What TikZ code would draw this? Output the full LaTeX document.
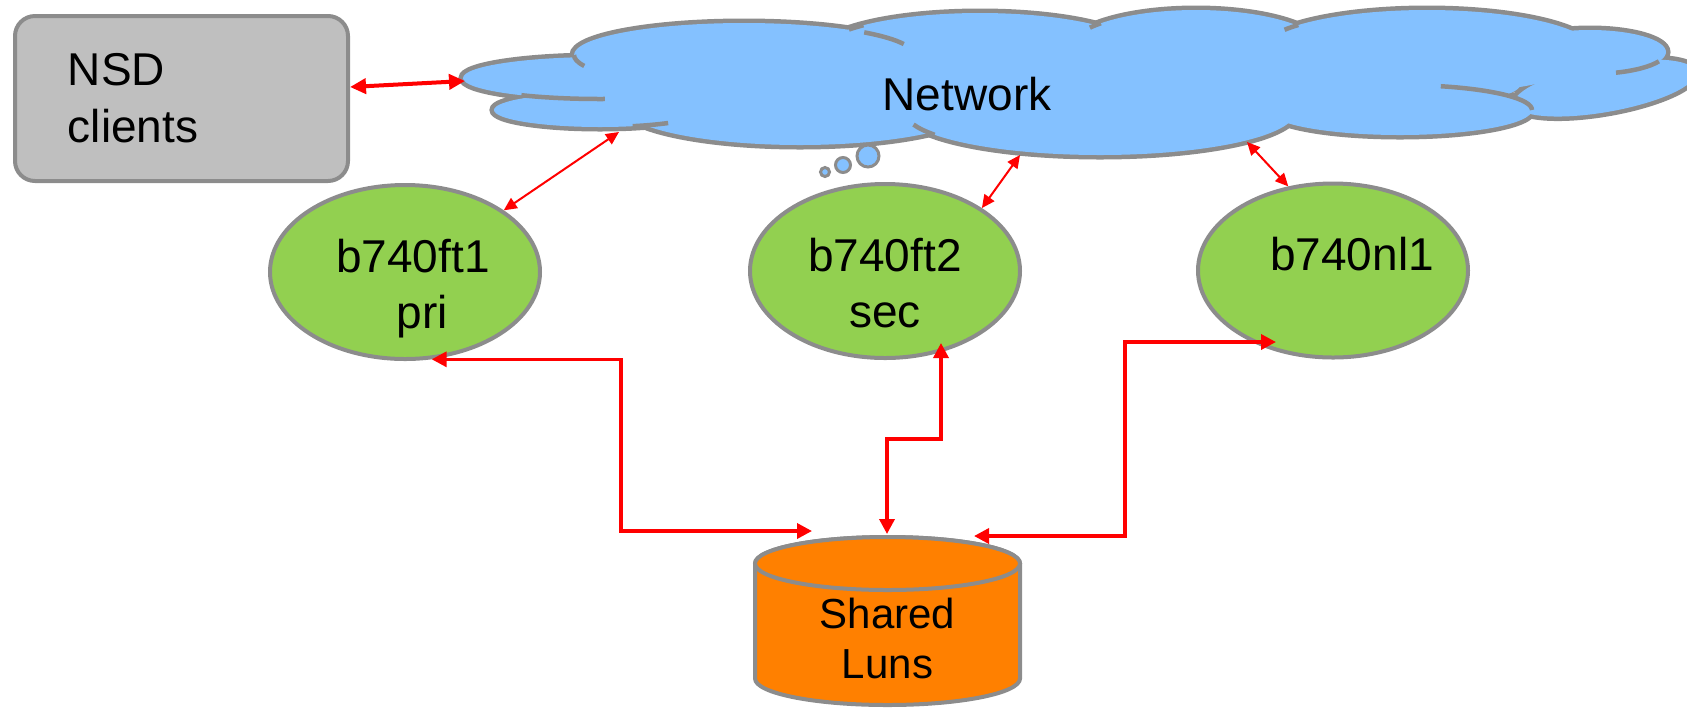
\documentclass[tikz,border=0pt]{standalone}
\usepackage{fontspec}
\setmainfont{Liberation Sans}
\usetikzlibrary{arrows.meta,calc,shapes.geometric}
\definecolor{linegray}{RGB}{140,140,140}
\definecolor{cloudblue}{RGB}{132,193,255}
\definecolor{hostgreen}{RGB}{146,208,80}
\definecolor{boxgray}{RGB}{191,191,191}
\definecolor{lunorange}{RGB}{255,128,0}
\definecolor{linkred}{RGB}{255,0,0}
\newcommand{\shiftedtext}[2]{\makebox[0pt]{\hspace*{#1}#2}}
\begin{document}
\begin{tikzpicture}[x=0.5pt,y=-0.5pt,
  lobeline/.style={draw=linegray, line width=4.5pt},
  lobefill/.style={fill=cloudblue},
  inner arc/.style={draw=linegray, line width=2.25pt},
  bubble/.style={draw=linegray, line width=1.5pt, fill=cloudblue},
  hostnode/.style={ellipse, draw=linegray, line width=2pt, fill=hostgreen,
     minimum width=135pt, minimum height=87pt, inner sep=0pt, align=center,
     font=\fontsize{23}{28}\selectfont, text height=56pt, text depth=0pt},
  clientbox/.style={rectangle, rounded corners=10pt, draw=linegray, line width=2pt,
     fill=boxgray, minimum width=166.5pt, minimum height=82.5pt, inner sep=0pt,
     text width=113.5pt, align=left, font=\fontsize{23}{28.5}\selectfont},
  cloudtext/.style={font=\fontsize{23}{28}\selectfont, inner sep=0pt},
  luntext/.style={font=\fontsize{21}{25}\selectfont, inner sep=0pt, align=center,
     text height=50pt, text depth=0pt},
  disk/.style={fill=lunorange, draw=linegray, line width=2pt},
  link thick/.style={draw=linkred, line width=1.75pt,
     {Triangle[length=7.5pt,width=7.5pt]}-{Triangle[length=7.5pt,width=7.5pt]}},
  link thin/.style={draw=linkred, line width=1pt,
     {Triangle[length=6.5pt,width=6pt]}-{Triangle[length=6.5pt,width=6pt]}},
  link client/.style={draw=linkred, line width=2pt,
     {Triangle[length=8pt,width=7.5pt]}-{Triangle[length=8pt,width=7.5pt]}},
]
\useasboundingbox (0,0) rectangle (1687,709);

% ---- cloud (union of lobes) ----
\def\cloudlobes{600/78/137/21/0, 600/110/106/17/0, 744/55/170/32/0, 980/53/162/40/0,
  1196/50/128/40/0, 1427/52/168/42/0, 1590/52/76/22/0, 1605/88/92/24/10,
  800/105/180/40/0, 1100/112/195/43/0, 1400/110/132/25/0}
\foreach \cx/\cy/\rx/\ry/\rot in \cloudlobes
  \path[lobeline, rotate around={\rot:(\cx,\cy)}] (\cx,\cy) ellipse [x radius=\rx, y radius=\ry];
\foreach \cx/\cy/\rx/\ry/\rot in \cloudlobes
  \path[lobefill, rotate around={\rot:(\cx,\cy)}] (\cx,\cy) ellipse [x radius=\rx, y radius=\ry];
\path[lobefill] (1100,85) ellipse [x radius=420, y radius=38];
\foreach \cx/\cy/\rx/\ry/\sa/\ea in {600/78/137/21/125/88, 744/55/170/32/-45/-20,
  744/55/170/32/180/160, 600/110/106/17/72/50, 1100/112/195/43/148/163,
  1400/110/132/25/-72/0, 1590/52/76/22/70/25, 980/53/162/40/-136/-144,
  1196/50/128/40/-138/-146, 1427/52/168/42/-140/-148}
  \draw[inner arc] ([shift={({\rx*cos(\sa)},{\ry*sin(\sa)})}]\cx,\cy)
     arc[start angle=\sa, end angle=\ea, x radius=\rx, y radius=\ry];
\path[bubble] (868,156) circle[radius=11];
\path[bubble] (843,165) circle[radius=7.5];
\path[bubble] (825,172) circle[radius=4.5];
\node[cloudtext, anchor=base] (net) at (967,110) {Network};

% ---- nodes ----
\node[clientbox] (nsd) at (181.5,98.5) {NSD\\clients};
\node[hostnode] (ft1) at (405,272) {\shiftedtext{8pt}{b740ft1}\\\shiftedtext{17pt}{pri}};
\node[hostnode] (ft2) at (885,271) {b740ft2\\sec};
\node[hostnode, text height=0pt] (nl1) at (1333,270.5) {\shiftedtext{19pt}{b740nl1}};

% ---- shared disk ----
\path[disk] (755,563.5) -- (755,678.5)
  arc[start angle=180, end angle=0, x radius=132.5, y radius=26.5] -- (1020,563.5)
  arc[start angle=0, end angle=-180, x radius=132.5, y radius=26.5] -- cycle;
\path[disk] (887.5,563.5) ellipse[x radius=132.5, y radius=26.5];
\node[luntext] (luns) at (887.5,628) {Shared\\Luns};

% ---- connector end points ----
\coordinate (netL) at (465,81);
\coordinate (netB) at (619,132);
\coordinate (netC) at (1020,155);
\coordinate (netD) at (1247,142);
\coordinate (ft2b) at ($(ft2)+(56,72)$);
\coordinate (nl1b) at ($(nl1)+(-57,71.5)$);
\coordinate (lunL) at (812,531);
\coordinate (lunT) at (887,534);
\coordinate (lunR) at (974,536);
\coordinate (bend1) at (621,531);
\coordinate (bend2) at (887,439);
\coordinate (bend3) at (1125,342);

% ---- connectors ----
\draw[link client] ([yshift=5.75pt]nsd.east) -- (netL);
\draw[link thin] (ft1.32.5) -- (netB);
\draw[link thin] (ft2.33.4) -- (netC);
\draw[link thin] (nl1.118.7) -- (netD);
\draw[link thick] (ft1.-73.4) -| (bend1) -- (lunL);
\draw[link thick] (ft2b) |- (bend2) -- (lunT);
\draw[link thick] (lunR) -| (bend3) -- (nl1b);
\end{tikzpicture}
\end{document}
